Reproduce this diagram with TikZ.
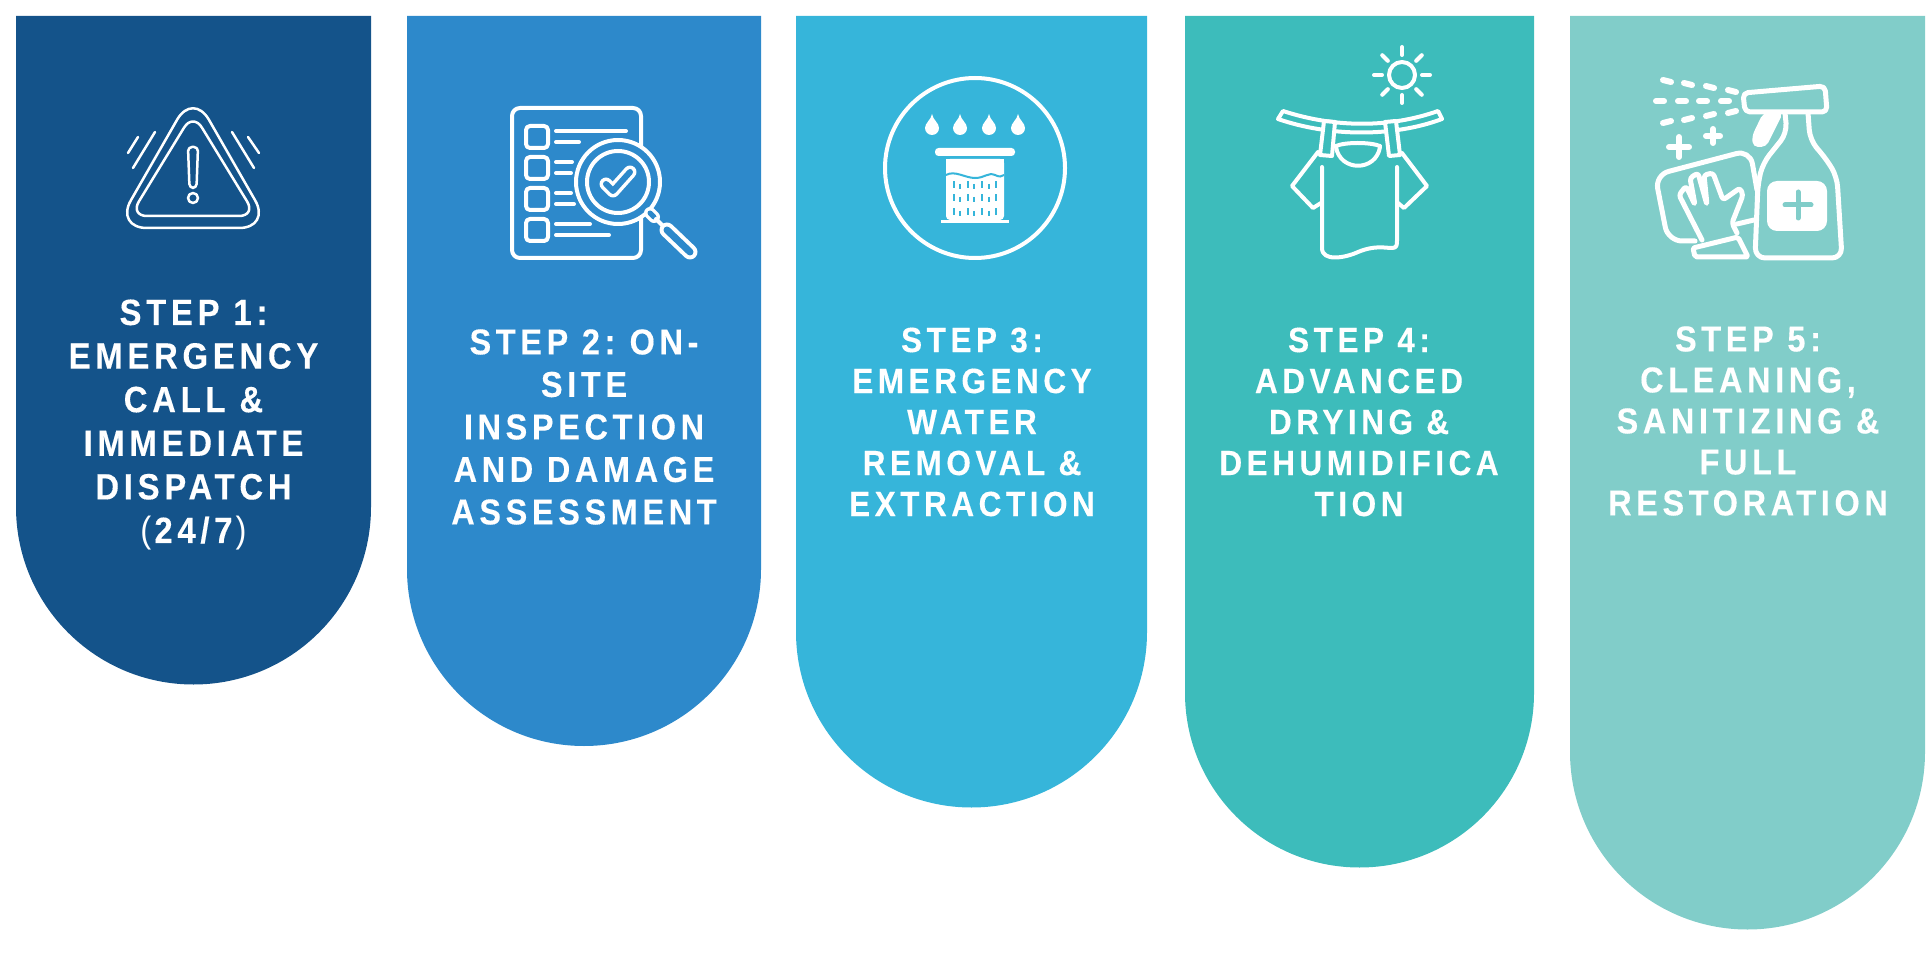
\documentclass[tikz,border=0pt]{standalone}
\usepackage{fontspec}
\setmainfont[LetterSpace=13, FakeStretch=0.9, BoldFeatures={FakeBold=0.3}]{Liberation Sans}
\definecolor{stepone}{HTML}{14538A}
\definecolor{steptwo}{HTML}{2D89CB}
\definecolor{stepthree}{HTML}{36B5DA}
\definecolor{stepfour}{HTML}{3DBCBB}
\definecolor{stepfive}{HTML}{81CDC9}
\tikzset{
    steplabel/.style 2 args={text=white, align=center, inner sep=0pt, font=\bfseries\fontsize{#1}{#2}\selectfont},
    icon/.style={draw=white, line width=4pt, line cap=round, line join=round},
    thin icon/.style={icon, line width=2.5pt},
    bold icon/.style={icon, line width=5pt},
    spray/.style={icon, line width=6pt}
}
\begin{document}
\begin{tikzpicture}[x=1pt, y=-1pt]
    \useasboundingbox (0,0) rectangle (1930,965);

    % panels
    \fill[stepone] (16,16) -- (371,16) -- (371,507) arc[start angle=0, end angle=180, radius=177.5] -- cycle;
    \fill[steptwo] (407,16) -- (761,16) -- (761,569) arc[start angle=0, end angle=180, radius=177] -- cycle;
    \fill[stepthree] (796,16) -- (1147,16) -- (1147,632) arc[start angle=0, end angle=180, radius=175.5] -- cycle;
    \fill[stepfour] (1185,16) -- (1534,16) -- (1534,693) arc[start angle=0, end angle=180, radius=174.5] -- cycle;
    \fill[stepfive] (1570,16) -- (1925,16) -- (1925,752) arc[start angle=0, end angle=180, radius=177.5] -- cycle;

    % labels
    \node[steplabel={36.5}{43.6}] (stepa) at (193.5,425) {STEP 1:\\EMERGENCY\\CALL \&\\IMMEDIATE\\DISPATCH\\{\mdseries(}\kern3pt 24/7\kern3pt{\mdseries)}};
    \node[steplabel={36}{42.5}] (stepb) at (584,427) {STEP 2:\kern-4pt{} ON-\\SITE\\INSPECTION\\AND DAMAGE\\ASSESSMENT};
    \node[steplabel={35}{41}] (stepc) at (972,422) {STEP 3:\\EMERGENCY\\WATER\\REMOVAL \&\\EXTRACTION};
    \node[steplabel={35}{41}] (stepd) at (1359,422) {STEP 4:\\ADVANCED\\DRYING \&\\DEHUMIDIFICA\\TION};
    \node[steplabel={36}{41}] (stepe) at (1748,421) {STEP 5:\\CLEANING,\\SANITIZING \&\\FULL\\RESTORATION};

    % warning icon
    \draw[thin icon, rounded corners=32pt] (193,92) -- (115,228) -- (271,228) -- cycle;
    \draw[thin icon, rounded corners=17pt] (193,113) -- (130,216) -- (256,216) -- cycle;
    \draw[thin icon, rounded corners=4pt] (188,147) -- (198,147) -- (196.5,188) -- (189.5,188) -- cycle;
    \draw[thin icon] (193,198) circle[radius=5];
    \draw[thin icon] (138,137) -- (128,153);
    \draw[thin icon] (155,132) -- (133,168);
    \draw[thin icon] (232,132) -- (254,168);
    \draw[thin icon] (248,137) -- (259,153);

    % checklist icon
    \draw[icon, rounded corners=8pt] (512,108) rectangle (641,258);
    \draw[icon, rounded corners=4pt] (526,126) rectangle (548,148);
    \draw[icon, rounded corners=4pt] (526,157) rectangle (548,179);
    \draw[icon, rounded corners=4pt] (526,188) rectangle (548,210);
    \draw[icon, rounded corners=4pt] (526,219) rectangle (548,241);
    \draw[icon] (556,131) -- (626,131);
    \draw[icon] (556,142) -- (579,142);
    \draw[icon] (556,162) -- (572,162);
    \draw[icon] (556,173) -- (571,173);
    \draw[icon] (556,193) -- (571,193);
    \draw[icon] (556,204) -- (574,204);
    \draw[icon] (556,224) -- (590,224);
    \draw[icon] (556,235) -- (609,235);
    \fill[steptwo] (618,182) circle[radius=43];
    \draw[icon] (618,182) circle[radius=42];
    \draw[icon] (618,182) circle[radius=31];
    \draw[icon, line width=13pt] (606,184) -- (613,191) -- (630,172);
    \draw[steptwo, line width=6pt, line cap=round, line join=round] (606,184) -- (613,191) -- (630,172);
    \draw[icon, line width=12pt] (650,213) -- (654,217);
    \draw[steptwo, line width=5pt, line cap=round] (650,213) -- (654,217);
    \draw[icon] (656,219) -- (664,227);
    \draw[icon, line width=15pt] (667,230) -- (690,252);
    \draw[steptwo, line width=7pt, line cap=round] (667,230) -- (690,252);

    % water icon
    \draw[icon] (975,168) circle[radius=90];
    \foreach \dropx in {932,960,989,1018} {
        \fill[white] (\dropx,114) .. controls (\dropx+1,120) and (\dropx+7,123) .. (\dropx+7,128)
            arc[start angle=0, end angle=180, radius=7] .. controls (\dropx-7,123) and (\dropx-1,120) .. cycle;
    }
    \fill[white, rounded corners=3.5pt] (935,148) rectangle (1015,156);
    \fill[white, rounded corners=4pt] (946,159) rectangle (1004,220);
    \fill[white] (946,159) rectangle (1004,200);
    \fill[white] (941,220) rectangle (1009,223);
    \draw[stepthree, line width=2pt] (946,175) .. controls (955,170) and (965,178) .. (975,178) .. controls (985,178) and (988,172) .. (995,175) .. controls (999,177) and (1002,177) .. (1004,175);
    \foreach \dashy in {185,198,212} {
        \foreach \dashx in {954,968,982,996} {
            \draw[stepthree, line width=2.4pt] (\dashx,\dashy-3.5) -- (\dashx,\dashy+3.5);
        }
        \foreach \dashx in {960,974,989} {
            \draw[stepthree, line width=2.4pt] (\dashx,\dashy-1) -- (\dashx,\dashy+4);
        }
    }

    % drying icon
    \draw[icon] (1402,75) circle[radius=13];
    \foreach \rayangle in {0,45,...,315} {
        \draw[icon] (1402,75) ++(\rayangle:20) -- ++(\rayangle:8);
    }
    \draw[icon] (1283,111) .. controls (1335,128) and (1390,128) .. (1438,111) -- (1442,119) .. controls (1394,137) and (1330,137) .. (1278,119) -- cycle;
    \draw[icon, fill=stepfour] (1324,121) -- (1335,122) -- (1332,156) -- (1320,155) -- cycle;
    \draw[icon, fill=stepfour] (1385,122) -- (1396,121) -- (1400,155) -- (1389,156) -- cycle;
    \draw[icon] (1336,146) .. controls (1345,142) and (1370,142) .. (1380,146);
    \draw[icon] (1336,147) .. controls (1340,172) and (1376,172) .. (1380,147);
    \draw[icon] (1318,152) -- (1292,186) -- (1313,208) -- (1321,203);
    \draw[icon] (1402,153) -- (1427,186) -- (1404,208) -- (1398,203);
    \draw[icon] (1322,167) -- (1322,248) .. controls (1322,262) and (1345,258) .. (1358,252) .. controls (1375,245) and (1385,248) .. (1392,248) .. controls (1397,248) and (1397,245) .. (1397,240) -- (1397,167);

    % cleaning icon
    \draw[bold icon, rounded corners=5pt] (1743,93) -- (1825,86) -- (1827,112) -- (1745,112) -- cycle;
    \fill[white, rounded corners=5pt] (1763,113) -- (1783,113) -- (1766,147) -- (1753,147) -- (1752,136) -- cycle;
    \draw[bold icon, rounded corners=10pt] (1785,113) -- (1787,133) -- (1763,163) -- (1758,183) -- (1755,258) -- (1842,258) -- (1837,177) -- (1827,160) -- (1810,140) -- (1808,113);
    \fill[white, rounded corners=10pt] (1767,181) rectangle (1827,231);
    \draw[stepfive, line width=5pt, line cap=round] (1785,205) -- (1811,205);
    \draw[stepfive, line width=5pt, line cap=round] (1798,192) -- (1798,218);
    \draw[bold icon, rounded corners=14pt] (1695,241) -- (1668,241) -- (1655,175) -- (1750,150) -- (1757,190);
    \draw[bold icon] (1737,224) -- (1754,220);
    \draw[bold icon, rounded corners=3pt] (1702,240) -- (1679,195) -- (1686,186) -- (1695,205) -- (1690,178) -- (1698,173) -- (1707,205) -- (1704,175) -- (1713,173) -- (1723,200) -- (1740,188) -- (1743,195) -- (1732,223) -- (1737,233);
    \draw[bold icon, rounded corners=2pt] (1693,248) -- (1738,237) -- (1748,257) -- (1695,257) -- cycle;
    \draw[spray] (1663,80) -- (1671,82);
    \draw[spray] (1684,83) -- (1692,85);
    \draw[spray] (1706,86) -- (1714,88);
    \draw[spray] (1728,90) -- (1736,92);
    \draw[spray] (1656,101) -- (1664,101);
    \draw[spray] (1678,101) -- (1686,101);
    \draw[spray] (1699,101) -- (1707,101);
    \draw[spray] (1721,101) -- (1729,101);
    \draw[spray] (1663,123) -- (1671,121);
    \draw[spray] (1684,120) -- (1692,118);
    \draw[spray] (1706,116) -- (1714,114);
    \draw[spray] (1728,113) -- (1736,111);
    \draw[spray] (1669,147) -- (1689,147);
    \draw[spray] (1679,137) -- (1679,157);
    \draw[spray] (1706,136) -- (1720,136);
    \draw[spray] (1713,129) -- (1713,143);
\end{tikzpicture}
\end{document}
